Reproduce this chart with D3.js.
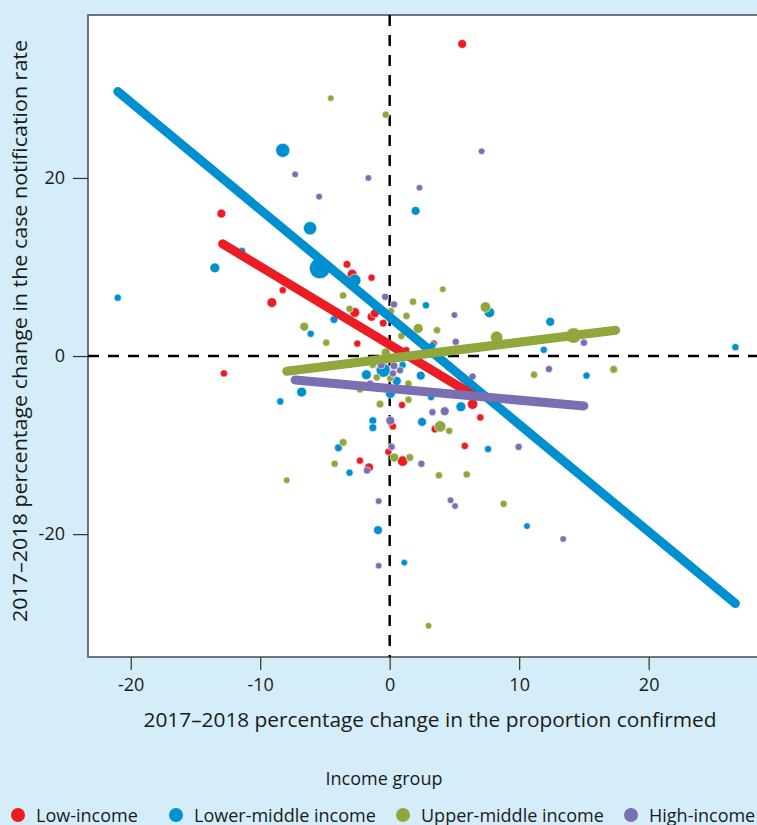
<!DOCTYPE html>
<html><head><meta charset="utf-8">
<script src="https://cdn.jsdelivr.net/npm/d3@7"></script>
<style>
html,body{margin:0;padding:0;background:#d4edf9;}
svg{display:block;}
text{font-family:"Open Sans","Noto Sans",sans-serif;fill:#1a1a1a;}
</style></head><body>
<svg id="c" width="757" height="825"></svg>
<script>
// [x change in proportion confirmed, y change in notification rate, weight]
const lowIncome = [
  [5.6,35.05,18],[-13.0,16.0,18],[-3.3,10.3,14],[-2.9,9.2,22],[-1.4,8.8,12],[-8.26,7.4,12],
  [-9.1,6.0,22],[-2.7,4.9,22],[-1.4,4.4,18],[-1.15,4.8,18],[-0.5,3.7,14],[-2.5,1.4,12],
  [3.4,1.4,12],[1.3,0.7,10],[-12.8,-1.95,12],[0.95,-5.5,12],[6.4,-5.4,25],[7.0,-6.9,12],
  [3.5,-8.2,14],[5.8,-10.1,12],[0.25,-7.9,12],[-0.1,-10.75,12],[1.0,-11.8,25],[-2.3,-11.75,12],
  [-1.6,-12.5,18]
];
const lowerMiddleIncome = [
  [-8.26,23.1,45],[2.0,16.3,18],[-6.15,14.35,40],[-11.4,11.8,12],[-13.5,9.9,22],[-5.4,9.85,100],
  [-2.7,8.5,35],[-21.0,6.55,12],[-4.3,4.1,14],[-6.1,2.5,12],[2.8,5.7,12],[7.7,4.9,25],
  [12.4,3.85,18],[26.7,1.0,12],[11.9,0.7,12],[15.2,-2.2,12],[2.4,-2.2,18],[3.2,-4.6,12],
  [5.5,-5.7,22],[2.5,-7.4,18],[7.6,-10.45,12],[10.6,-19.1,10],[-8.45,-5.1,12],[-6.8,-4.05,22],
  [0.05,-4.2,22],[0.55,-2.8,18],[-1.3,-7.25,14],[-1.3,-8.05,14],[-3.96,-10.3,14],[-3.1,-13.1,12],
  [-0.9,-19.55,18],[1.13,-23.2,10],[-0.5,-1.6,45],[-1.8,-2.1,22],[1.0,-1.0,12],[3.3,1.2,12]
];
const upperMiddleIncome = [
  [-4.55,28.95,10],[-0.3,27.1,12],[-3.6,6.8,12],[1.8,6.1,12],[-3.1,5.3,12],[1.3,4.5,12],
  [2.2,3.1,22],[0.9,2.25,12],[-6.6,3.3,18],[-4.9,1.5,12],[4.1,7.5,10],[7.4,5.5,25],
  [3.65,2.9,12],[8.26,2.1,35],[14.2,2.3,55],[11.15,-2.1,12],[17.3,-1.5,14],[3.9,-7.9,30],
  [4.6,-8.4,12],[3.8,-13.4,12],[5.95,-13.3,12],[8.8,-16.6,12],[3.0,-30.3,10],[-2.3,-3.75,12],
  [-0.75,-5.4,14],[1.45,-3.1,12],[1.45,-4.9,12],[-3.6,-9.7,14],[0.36,-11.4,18],[1.55,-11.4,14],
  [-4.25,-12.1,12],[-7.95,-13.95,10],[0.1,5.05,12],[-0.3,0.4,18],[-1.3,-1.0,12],[-1.0,-2.4,12],
  [0.05,-2.5,12]
];
const highIncome = [
  [-7.3,20.4,10],[-1.65,20.0,10],[-5.45,17.9,10],[2.3,18.9,10],[7.1,23.0,10],[-0.35,6.65,12],
  [0.33,5.8,12],[5.0,4.6,10],[5.1,1.6,12],[15.0,1.5,12],[6.4,-2.3,12],[12.3,-1.46,12],
  [3.3,-6.3,12],[4.25,-6.2,18],[9.96,-10.2,12],[2.45,-12.1,12],[4.7,-16.2,10],[5.05,-16.85,10],
  [13.4,-20.55,10],[0.05,-7.25,18],[0.15,-10.2,12],[-1.75,-12.85,12],[-0.85,-16.3,10],[-0.85,-23.55,10],
  [-0.65,-1.0,14],[0.33,-1.1,14],[0.8,-1.6,12],[0.25,-1.95,12],[-1.5,-3.1,12]
];
// fitted trend lines (endpoints)
const lowFit = [[-12.9,12.6],[6.45,-4.4]];
const lowerMiddleFit = [[-21.0,29.7],[26.7,-27.8]];
const upperMiddleFit = [[-7.95,-1.7],[17.45,2.9]];
const highFit = [[-7.3,-2.7],[15.0,-5.6]];

const groupNames = ["Low-income","Lower-middle income","Upper-middle income","High-income"];
const xTicks = [-20,-10,0,10,20];
const yTicks = [-20,0,20];
const xTitle = "2017–2018 percentage change in the proportion confirmed";
const yTitle = "2017–2018 percentage change in the case notification rate";
const legendTitle = "Income group";

const colors = ["#ec1c24","#0090d0","#8fa73d","#7970b4"];
const groups = [lowIncome, lowerMiddleIncome, upperMiddleIncome, highIncome];
const fits = [lowFit, lowerMiddleFit, upperMiddleFit, highFit];

const svg = d3.select("#c");
const L=88, R=760, T=15, B=657;
const x = d3.scaleLinear().domain([-23.3,28.6]).range([L,R]);
const y = d3.scaleLinear().domain([-33.8,38.3]).range([B,T]);
const r = d3.scaleSqrt().domain([0,100]).range([0,10.5]);

svg.append("rect").attr("x",L).attr("y",T).attr("width",R-L).attr("height",B-T)
  .attr("fill","#fff").attr("stroke","#4a4a4a").attr("stroke-width",1.5);

svg.append("defs").append("clipPath").attr("id","pc")
  .append("rect").attr("x",L).attr("y",T).attr("width",R-L).attr("height",B-T);
const plot = svg.append("g").attr("clip-path","url(#pc)");

// reference lines
plot.append("line").attr("x1",x(0)).attr("x2",x(0)).attr("y1",T).attr("y2",B)
  .attr("stroke","#000").attr("stroke-width",2.5).attr("stroke-dasharray","11,9");
plot.append("line").attr("x1",L).attr("x2",R).attr("y1",y(0)).attr("y2",y(0))
  .attr("stroke","#000").attr("stroke-width",2.5).attr("stroke-dasharray","11,9");

// points
groups.forEach((g,i)=>{
  plot.append("g").selectAll("circle").data(g).join("circle")
    .attr("cx",d=>x(d[0])).attr("cy",d=>y(d[1])).attr("r",d=>r(d[2]))
    .attr("fill",colors[i]).attr("stroke","#fff").attr("stroke-width",0.6);
});

// fit lines: draw order blue, red, purple, green
const line = d3.line().x(d=>x(d[0])).y(d=>y(d[1]));
[1,0,3,2].forEach(i=>{
  plot.append("path").attr("d",line(fits[i])).attr("fill","none")
    .attr("stroke",colors[i]).attr("stroke-width",9).attr("stroke-linecap","round");
});

// axes
const xAxis = svg.append("g").attr("transform",`translate(0,${B})`)
  .call(d3.axisBottom(x).tickValues(xTicks).tickSize(13).tickPadding(8));
const yAxis = svg.append("g").attr("transform",`translate(${L},0)`)
  .call(d3.axisLeft(y).tickValues(yTicks).tickSize(15).tickPadding(8));
[xAxis,yAxis].forEach(a=>{
  a.select(".domain").remove();
  a.selectAll(".tick line").attr("stroke","#333").attr("stroke-width",1.2);
  a.selectAll(".tick text").attr("font-size",18).attr("fill","#1a1a1a")
    .attr("font-family","'Open Sans',sans-serif").text(d=>String(d));
});

svg.append("text").attr("x",430).attr("y",727).attr("text-anchor","middle")
  .attr("font-size",20).attr("textLength",573).attr("lengthAdjust","spacingAndGlyphs").text(xTitle);
svg.append("text").attr("transform","translate(27,331) rotate(-90)").attr("text-anchor","middle")
  .attr("font-size",20).attr("textLength",582).attr("lengthAdjust","spacingAndGlyphs").text(yTitle);

svg.append("text").attr("x",384).attr("y",785).attr("text-anchor","middle")
  .attr("font-size",18).text(legendTitle);
const legX = [18,176,403,631];
groupNames.forEach((n,i)=>{
  svg.append("circle").attr("cx",legX[i]).attr("cy",815).attr("r",7).attr("fill",colors[i]);
  svg.append("text").attr("x",legX[i]+18).attr("y",822).attr("font-size",18).text(n);
});
</script>
</body></html>
